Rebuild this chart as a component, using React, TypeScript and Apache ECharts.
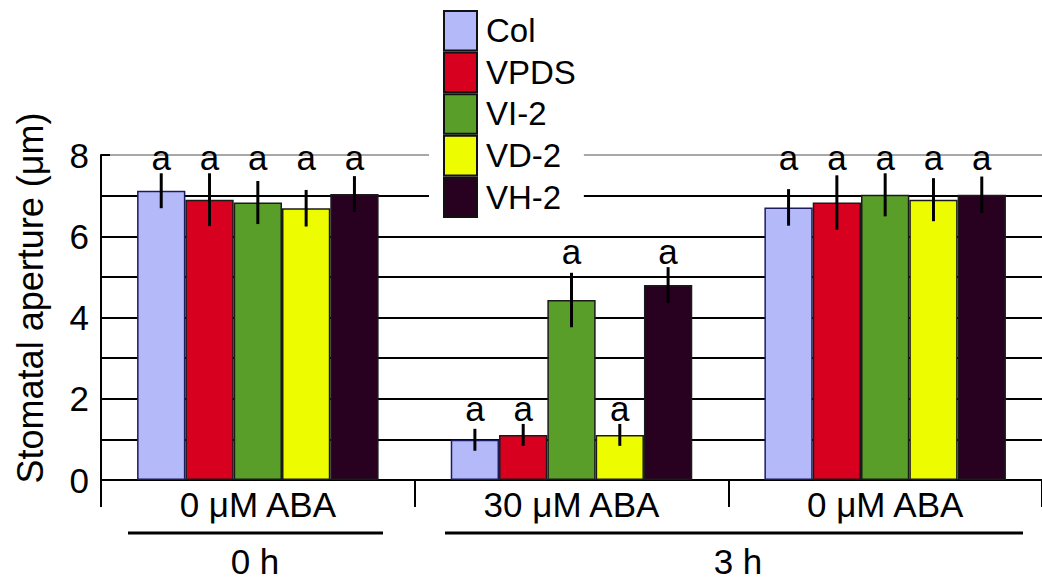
import React, { useEffect, useRef } from "react";
import * as echarts from "echarts";

const categories = ["0 μM ABA", "30 μM ABA", "0 μM ABA"];
const seriesNames = ["Col", "VPDS", "VI-2", "VD-2", "VH-2"];
const colValues = [7.12, 0.99, 6.71];
const vpdsValues = [6.9, 1.11, 6.83];
const vi2Values = [6.83, 4.43, 7.02];
const vd2Values = [6.69, 1.11, 6.9];
const vh2Values = [7.04, 4.8, 7.02];
const colErr = [0.43, 0.27, 0.45];
const vpdsErr = [0.65, 0.27, 0.67];
const vi2Err = [0.53, 0.67, 0.53];
const vd2Err = [0.45, 0.27, 0.53];
const vh2Err = [0.44, 0.44, 0.45];
const colLetters = ["a", "a", "a"];
const vpdsLetters = ["a", "a", "a"];
const vi2Letters = ["a", "a", "a"];
const vd2Letters = ["a", "a", "a"];
const vh2Letters = ["a", "a", "a"];
const yTicks = [0, 2, 4, 6, 8];
const timeLabels = ["0 h", "3 h"];

const values = [colValues, vpdsValues, vi2Values, vd2Values, vh2Values];
const errs = [colErr, vpdsErr, vi2Err, vd2Err, vh2Err];
const letters = [colLetters, vpdsLetters, vi2Letters, vd2Letters, vh2Letters];
const colors = ["#b4b9fa", "#d8001f", "#5a9e2a", "#eefc00", "#280020"];
const borders = ["#1c1c5c", "#1a1a1a", "#1a1a1a", "#1a1a1a", "#1a1a1a"];

const FONT = "'Liberation Sans', Arial, sans-serif";
const CAT_GAP = 0.23;
const LETTER_OFFSET = 0.38;

function letterLevel(s: number, c: number): number {
  const top = values[s][c] + errs[s][c];
  let m = top;
  for (let k = 0; k < values.length; k++) {
    const t = values[k][c] + errs[k][c];
    if (Math.abs(t - top) < 0.5 && t > m) m = t;
  }
  return m + LETTER_OFFSET;
}

export default function App() {
  const ref = useRef<HTMLDivElement>(null);
  useEffect(() => {
    if (!ref.current) return;
    const chart = echarts.init(ref.current, undefined, { renderer: "svg" });
    const n = seriesNames.length;
    const barSeries = seriesNames.map((name, s) => ({
      type: "bar",
      name,
      data: values[s],
      barGap: "0%",
      barCategoryGap: CAT_GAP * 100 + "%",
      itemStyle: { color: colors[s], borderColor: borders[s], borderWidth: 1.5 },
      z: 2,
    }));
    const errSeries = seriesNames.map((name, s) => ({
      type: "custom",
      name: "err-" + name,
      z: 5,
      data: categories.map((_, c) => [c, values[s][c], errs[s][c], letterLevel(s, c), letters[s][c]]),
      renderItem: (params: any, api: any) => {
        const c = api.value(0);
        const v = api.value(1);
        const e = api.value(2);
        const ly = api.value(3);
        const center = api.coord([c, v]);
        const bw = (api.size([1, 0])[0] * (1 - CAT_GAP)) / n;
        const x = center[0] + (s - (n - 1) / 2) * bw;
        const yTop = api.coord([c, v + e])[1];
        const yBot = api.coord([c, v - e])[1];
        const yL = api.coord([c, ly])[1];
        return {
          type: "group",
          children: [
            {
              type: "line",
              shape: { x1: x, y1: yTop, x2: x, y2: yBot },
              style: { stroke: "#000", lineWidth: 3 },
            },
            {
              type: "text",
              x,
              y: yL,
              style: {
                text: letters[s][c],
                fill: "#000",
                font: "35px " + FONT,
                textAlign: "center",
                textVerticalAlign: "middle",
              },
            },
          ],
        };
      },
    }));
    const splitColors = [0, 1, 2, 3, 4, 5, 6, 7, 8].map((i) => (i === 8 ? "#a8a8a8" : "#000"));
    chart.setOption({
      animation: false,
      grid: { left: 101, top: 155, height: 325, width: 949, containLabel: false },
      legend: {
        data: seriesNames,
        orient: "vertical",
        left: 429,
        top: 10,
        padding: [0, 8, 0, 14],
        itemGap: 0,
        itemWidth: 33,
        itemHeight: 39.6,
        icon: "rect",
        backgroundColor: "#fff",
        itemStyle: { borderColor: "#111", borderWidth: 2 },
        textStyle: { fontSize: 33, color: "#000", fontFamily: FONT, padding: [0, 0, 0, 4] },
        selectedMode: false,
        z: 10,
      },
      xAxis: {
        type: "category",
        data: categories.map((_, i) => String(i)),
        boundaryGap: true,
        axisLine: { show: true, lineStyle: { color: "#000", width: 2 } },
        axisTick: { show: true, length: 27, lineStyle: { color: "#000", width: 2 } },
        axisLabel: {
          formatter: (_v: string, i: number) => categories[i],
          fontSize: 35,
          color: "#000",
          fontFamily: FONT,
          margin: 7,
        },
        splitLine: { show: false },
      },
      yAxis: {
        type: "value",
        min: 0,
        max: 8,
        interval: 1,
        axisLine: { show: true, lineStyle: { color: "#000", width: 2 } },
        axisTick: { show: true, inside: true, length: 9, lineStyle: { color: "#000", width: 2 } },
        axisLabel: {
          formatter: (v: number) => (yTicks.indexOf(v) >= 0 ? String(v) : ""),
          fontSize: 35,
          color: "#000",
          fontFamily: FONT,
          margin: 12,
        },
        splitLine: { show: true, lineStyle: { color: splitColors, width: 2 } },
      },
      graphic: [
        {
          type: "text",
          x: 30,
          y: 298,
          rotation: Math.PI / 2,
          style: {
            text: "Stomatal aperture (μm)",
            fill: "#000",
            font: "36px " + FONT,
            textAlign: "center",
            textVerticalAlign: "middle",
          },
        },
        { type: "line", shape: { x1: 128, y1: 533, x2: 383, y2: 533 }, style: { stroke: "#000", lineWidth: 3 } },
        { type: "line", shape: { x1: 445, y1: 533, x2: 1023, y2: 533 }, style: { stroke: "#000", lineWidth: 3 } },
        {
          type: "text",
          x: 255,
          y: 561,
          style: { text: timeLabels[0], fill: "#000", font: "35px " + FONT, textAlign: "center", textVerticalAlign: "middle" },
        },
        {
          type: "text",
          x: 738,
          y: 561,
          style: { text: timeLabels[1], fill: "#000", font: "35px " + FONT, textAlign: "center", textVerticalAlign: "middle" },
        },
      ],
      series: [...barSeries, ...errSeries],
    });
    return () => chart.dispose();
  }, []);
  return (
    <div
      ref={ref}
      style={{ position: "absolute", left: 0, top: 0, width: 1042, height: 581, background: "#fff" }}
    />
  );
}
